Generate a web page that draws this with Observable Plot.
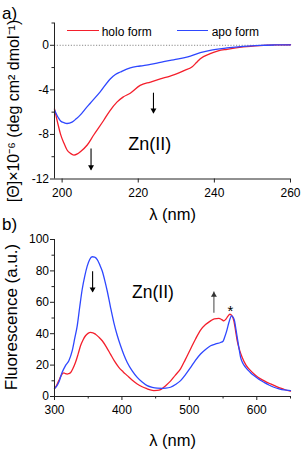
<!DOCTYPE html>
<html><head><meta charset="utf-8">
<script src="https://cdn.jsdelivr.net/npm/d3@7"></script>
<script src="https://cdn.jsdelivr.net/npm/@observablehq/plot@0.6"></script>
<style>
body{margin:0;background:#fff;}
#wrap{position:relative;width:302px;height:451px;font-family:"Liberation Sans",Arial,sans-serif;color:#000;}
#wrap svg{display:block;}
.lab{position:absolute;white-space:nowrap;line-height:1;}
.leg{position:absolute;height:0;border-top:1.4px solid;}
</style></head><body><div id="wrap"></div>
<script>
// ---------- Panel a: CD spectra ----------
const cdHoloX = [198,199,199.6,200.5,201.3,202.2,203.1,204,204.8,206.6,208.3,210.9,212.5,214.4,216,217.9,220.5,223.2,225.8,228.4,230.2,232.2,234.1,235.3,236.3,238.9,241,243.3,247.6,252,256,260];
const cdHoloY = [-5.7,-7.2,-8.0,-8.8,-9.4,-9.7,-9.85,-9.75,-9.55,-8.95,-8.05,-6.75,-5.9,-5.1,-4.65,-4.3,-3.6,-3.3,-3.02,-2.76,-2.55,-2.25,-1.95,-1.55,-1.2,-0.75,-0.5,-0.36,-0.15,-0.03,0.03,0.05];
const cdApoX = [198,199,199.6,200.5,201.3,202.6,203.7,204.8,206,207.4,210,212.7,214,215.3,217.9,220.5,223.2,225.8,228.4,230.2,233.7,236.3,238.9,243.3,247.6,252,256,260];
const cdApoY = [-5.8,-6.5,-6.8,-6.95,-7.02,-6.9,-6.6,-6.25,-5.75,-5.2,-4.18,-3.0,-2.62,-2.4,-2.02,-1.86,-1.71,-1.53,-1.35,-1.25,-0.98,-0.66,-0.45,-0.24,-0.09,0.0,0.03,0.04];
const cdXDomain = [198, 260];
const cdYDomain = [-12, 2];
const cdXTicks = [200, 220, 240, 260];
const cdYTicks = [0, -4, -8, -12];
const cdYMinor = [2, -2, -6, -10];
const cdArrows = [{x: 207.6, y1: -9.3, y2: -11.2}, {x: 224, y1: -4.3, y2: -6.1}];
const cdNote = [{x: 217.4, y: -8.85, text: "Zn(II)"}];

// ---------- Panel b: fluorescence ----------
const flApoX = [300,303,306.4,311.4,316.3,321.3,326.3,330,333.7,337.4,341.1,344.8,348.5,352.2,355.9,359.6,363.4,367,370.8,374.5,378.2,383,388,393,398,403,407.9,415,422.7,430,437.5,445,452.4,460,465,472,480,487,494,502,509,516.6,524,531.5,539,546.3,550,552.2,555.5,558.6,562.6,565,567,569,571,573.5,576,579.5,583.4,590,595.7,603,610.5,618,625.4,633,640.2,650];
const flApoY = [5.0,6.5,9.1,15.4,19.7,22.8,29.2,37,45,57,68.3,76.5,83,87.3,89,88.8,87.2,84,79.9,74,67.2,57,47.1,39,32.3,26.5,21.7,16.5,12.2,9.2,6.9,5.8,5.3,5.2,5.3,5.9,7.8,10.1,13.8,18.6,23,27.1,30,32.3,33.5,34.4,35.2,37.6,42,47.1,51.4,50.5,48.2,43,37.6,31,24.9,21,18.6,15.5,13.3,11,9.1,7.3,5.9,4.9,4.2,3.8];
const flHoloX = [300,303,306.4,310,313.8,316,318.8,321,323.7,327.5,331.2,335,338.6,342.3,346,349.7,353.4,357,360.8,365.8,370.8,377,383,389,395.4,401.6,407.9,415,422.7,430,437.5,442,447.4,452,457.3,463,466,472,479,486.9,494,501.8,509,516.6,524,531.5,537,543.8,548,551.2,554,557,560.1,563,566,568.5,571,574.5,578.4,584,590.8,598,605.6,613,620.5,628,635.3,642,650];
const flHoloY = [5,7,10.1,13.5,15,14.6,14.3,14.5,15.1,18,21.8,27,32.3,36,38.7,40.2,40.8,40.6,39.7,37.8,35.5,31.5,27,22.5,18.6,15.8,13.3,10.5,8,6.2,4.9,4.2,3.8,3.9,4.4,6.2,7.3,9.8,13.5,17.6,23.5,30.3,36.5,42.3,45.8,48.2,49.5,49.7,49,48.2,49.2,51,52.4,51.5,48.2,42,35.5,29.5,24.9,20,16.5,13.6,11.2,9.5,8,6.6,5.3,4.3,3.4];
const flXDomain = [300, 650];
const flYDomain = [0, 100];
const flXTicks = [300, 400, 500, 600];
const flXMinor = [350, 450, 550, 650];
const flYTicks = [0, 20, 40, 60, 80, 100];
const flYMinor = [10, 30, 50, 70, 90];
const flArrowsDown = [{x: 356.5, y1: 79.5, y2: 66.5}];
const flArrowsUp = [{x: 536.4, y1: 53.1, y2: 66.5}];
const flStar = [{x: 561, y: 54.5, text: "*"}];
const flNote = [{x: 415, y: 66, text: "Zn(II)"}];

const seriesNames = ["holo form", "apo form"];
const RED = "#f41f2c", BLUE = "#2e47ff";
const FONT = "'Liberation Sans', Arial, sans-serif";

const zip = (xs, ys, s) => xs.map((x, i) => ({x, y: ys[i], s}));
const cdData = [...zip(cdHoloX, cdHoloY, seriesNames[0]), ...zip(cdApoX, cdApoY, seriesNames[1])];
const flData = [...zip(flHoloX, flHoloY, seriesNames[0]), ...zip(flApoX, flApoY, seriesNames[1])];
const colorScale = {domain: seriesNames, range: [RED, BLUE]};
const txt = d => d;
const fmt = d => String(d);

const chartA = Plot.plot({
  width: 302, height: 225,
  marginLeft: 54, marginRight: 12, marginTop: 22.5, marginBottom: 46.5,
  style: {fontFamily: FONT, fontSize: "12px", color: "#000", background: "#fff", overflow: "visible"},
  x: {domain: cdXDomain},
  y: {domain: cdYDomain},
  color: colorScale,
  marks: [
    Plot.ruleY([0], {stroke: "#8a8a8a", strokeWidth: 1, strokeDasharray: "1.2,1.6"}),
    Plot.line(cdData, {x: "x", y: "y", z: "s", stroke: "s", strokeWidth: 1.3, curve: "monotone-x"}),
    Plot.axisX(cdXTicks, {tickSize: 4, tickPadding: 5, fontSize: 12, label: null, stroke: "#222", tickFormat: fmt}),
    Plot.axisY(cdYTicks, {tickSize: 4, tickPadding: 1.5, fontSize: 12, label: null, stroke: "#222", tickFormat: fmt}),
    Plot.axisY(cdYMinor, {tickSize: 2.5, tickFormat: () => "", label: null, stroke: "#222"}),
    Plot.ruleX([cdXDomain[0]], {stroke: "#222"}),
    Plot.ruleY([cdYDomain[0]], {stroke: "#222"}),
    Plot.ruleX(cdArrows, {x: "x", y1: "y1", y2: "y2", stroke: "#000", strokeWidth: 1.1}),
    Plot.dot(cdArrows, {x: "x", y: "y2", symbol: "triangle", rotate: 180, r: 2.2, fill: "#000", stroke: null, dy: -3}),
    Plot.text(cdNote, {x: "x", y: "y", text: "text", textAnchor: "start", fontSize: 18}),
    Plot.text(["λ (nm)"], {text: txt, frameAnchor: "bottom", textAnchor: "middle", lineAnchor: "middle", dy: 36, fontSize: 16.5}),
    Plot.text(["[Θ]×10⁻⁶ (deg cm² dmol⁻¹)"], {text: txt, frameAnchor: "left", textAnchor: "middle", lineAnchor: "middle", rotate: -90, dx: -41, dy: 10, fontSize: 16})
  ]
});

const chartB = Plot.plot({
  width: 302, height: 226,
  marginLeft: 54, marginRight: 12, marginTop: 14, marginBottom: 55,
  style: {fontFamily: FONT, fontSize: "12px", color: "#000", background: "#fff", overflow: "visible"},
  x: {domain: flXDomain},
  y: {domain: flYDomain},
  color: colorScale,
  marks: [
    Plot.line(flData, {x: "x", y: "y", z: "s", stroke: "s", strokeWidth: 1.3, curve: "monotone-x"}),
    Plot.axisX(flXTicks, {tickSize: 4, tickPadding: 5, fontSize: 12, label: null, stroke: "#222", tickFormat: fmt}),
    Plot.axisX(flXMinor, {tickSize: 2.5, tickFormat: () => "", label: null, stroke: "#222"}),
    Plot.axisY(flYTicks, {tickSize: 4, tickPadding: 1.5, fontSize: 12, label: null, stroke: "#222", tickFormat: fmt}),
    Plot.axisY(flYMinor, {tickSize: 2.5, tickFormat: () => "", label: null, stroke: "#222"}),
    Plot.ruleX([flXDomain[0]], {stroke: "#222"}),
    Plot.ruleY([flYDomain[0]], {stroke: "#222"}),
    Plot.ruleX(flArrowsDown, {x: "x", y1: "y1", y2: "y2", stroke: "#000", strokeWidth: 1.1}),
    Plot.dot(flArrowsDown, {x: "x", y: "y2", symbol: "triangle", rotate: 180, r: 2.2, fill: "#000", stroke: null, dy: -3}),
    Plot.ruleX(flArrowsUp, {x: "x", y1: "y1", y2: "y2", stroke: "#555", strokeWidth: 1.1}),
    Plot.dot(flArrowsUp, {x: "x", y: "y2", symbol: "triangle", r: 2.2, fill: "#333", stroke: null, dy: 3}),
    Plot.text(flStar, {x: "x", y: "y", text: "text", fontSize: 15}),
    Plot.text(flNote, {x: "x", y: "y", text: "text", textAnchor: "start", fontSize: 17.5}),
    Plot.text(["λ (nm)"], {text: txt, frameAnchor: "bottom", textAnchor: "middle", lineAnchor: "middle", dy: 44, fontSize: 16.5}),
    Plot.text(["Fluorescence (a.u.)"], {text: txt, frameAnchor: "left", textAnchor: "middle", lineAnchor: "middle", rotate: -90, dx: -42.5, dy: -1, fontSize: 17})
  ]
});

const wrap = document.getElementById("wrap");
wrap.appendChild(chartA);
wrap.appendChild(chartB);

function addLabel(text, left, top, size) {
  const d = document.createElement("div");
  d.className = "lab";
  d.textContent = text;
  d.style.left = left + "px";
  d.style.top = top + "px";
  d.style.fontSize = size + "px";
  wrap.appendChild(d);
}
function addLine(color, left, top, w) {
  const d = document.createElement("div");
  d.className = "leg";
  d.style.left = left + "px";
  d.style.top = top + "px";
  d.style.width = w + "px";
  d.style.borderColor = color;
  wrap.appendChild(d);
}
addLabel("a)", 2, 4.5, 17);
addLabel("b)", 2, 215.5, 17);
addLine(RED, 67, 30.3, 32);
addLabel(seriesNames[0], 101.7, 26.3, 12);
addLine(BLUE, 177.3, 30.3, 31);
addLabel(seriesNames[1], 211.7, 26.3, 12);
</script></body></html>
